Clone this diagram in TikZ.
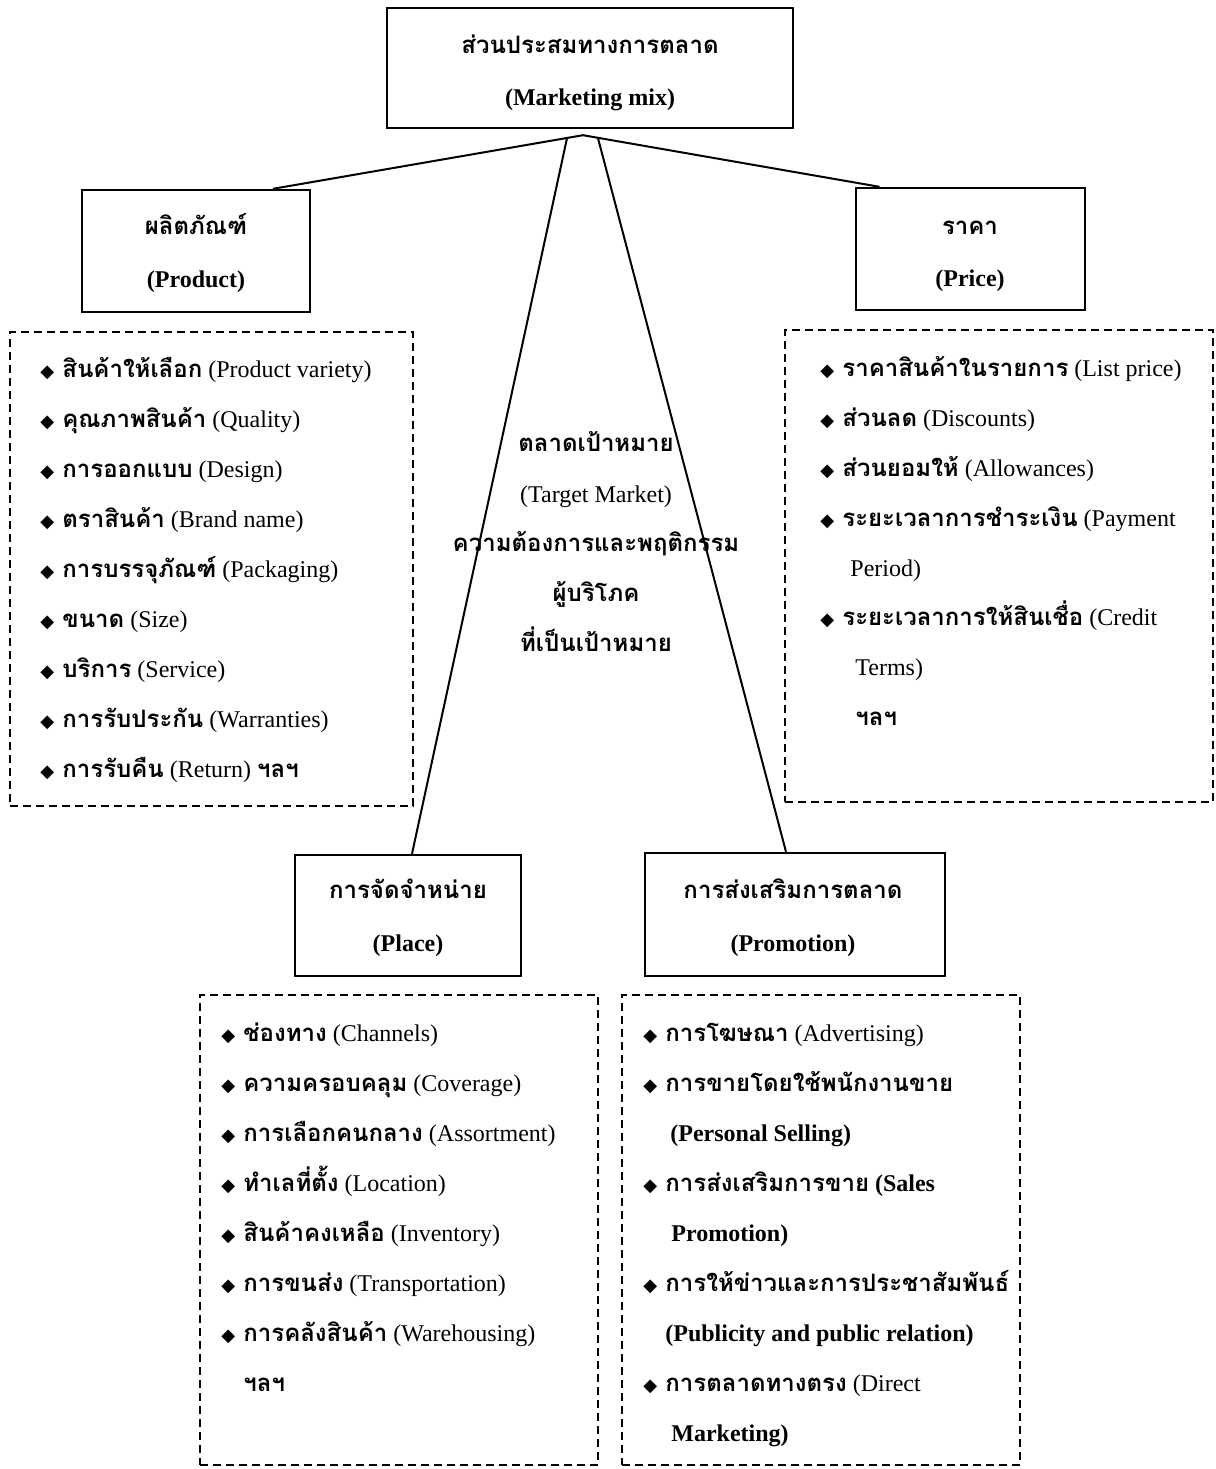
\documentclass[tikz,border=0pt]{standalone}
\usepackage{fontspec}
\setmainfont{Liberation Serif}
\newfontfamily\thaifont[Script=Thai]{Loma}
\newfontfamily\symfont{DejaVu Sans}
\usetikzlibrary{calc}
\newcommand\thx[1]{{\thaifont\bfseries #1}}
\newcommand\bul{\makebox[11pt][l]{\symfont\fontsize{9}{9}\selectfont ◆}}
\tikzset{
  box/.style={draw, line width=1.2pt, rectangle, inner sep=0pt},
  listbox/.style={draw, line width=1.2pt, rectangle, inner sep=0pt, dash pattern=on 4pt off 2.5pt},
  conn/.style={line width=1pt},
  txt/.style={anchor=base, inner sep=0pt, font=\fontsize{12}{14}\selectfont},
  item/.style={anchor=base west, inner sep=0pt, font=\fontsize{12}{14}\selectfont},
}
\begin{document}
\begin{tikzpicture}[x=0.5pt,y=-0.5pt]
\useasboundingbox (0,0) rectangle (1216,1469);
% main boxes
\node[box, minimum width=203pt, minimum height=60pt] (mix) at (590,68) {};
\node[box, minimum width=114pt, minimum height=61pt] (prod) at (196,251) {};
\node[box, minimum width=114.5pt, minimum height=61pt] (price) at (970.5,249) {};
\node[box, minimum width=113pt, minimum height=60.5pt] (place) at (408,915.5) {};
\node[box, minimum width=150pt, minimum height=61.5pt] (promo) at (795,914.5) {};
% titles
\node[txt] (mixth) at (590,53) {\thx{ส่วนประสมทางการตลาด}};
\node[txt] (mixen) at (590,105) {\textbf{(Marketing mix)}};
\node[txt] (prodth) at (196,234) {\thx{ผลิตภัณฑ์}};
\node[txt] (proden) at (196,287) {\textbf{(Product)}};
\node[txt] (priceth) at (970,234) {\thx{ราคา}};
\node[txt] (priceen) at (970,286) {\textbf{(Price)}};
\node[txt] (placeth) at (408,898) {\thx{การจัดจำหน่าย}};
\node[txt] (placeen) at (408,951) {\textbf{(Place)}};
\node[txt] (promoth) at (793,898) {\thx{การส่งเสริมการตลาด}};
\node[txt] (promoen) at (793,951) {\textbf{(Promotion)}};
% list boxes
\node[listbox, minimum width=201.5pt, minimum height=237pt] (prodl) at (211.5,569) {};
\node[listbox, minimum width=214pt, minimum height=236pt] (pricel) at (999,566) {};
\node[listbox, minimum width=199pt, minimum height=235pt] (placel) at (399,1230) {};
\node[listbox, minimum width=199pt, minimum height=235pt] (promol) at (821,1230) {};
% connectors
\coordinate (apex) at ($(mix.south)+(-7,6)$);
\coordinate (apexL) at ($(mix.south)+(-23,9)$);
\coordinate (apexR) at ($(mix.south)+(8,9)$);
\draw[conn] (apex) -- ($(prod.north)+(77,0)$);
\draw[conn] (apex) -- ($(price.north)+(-91,0)$);
\draw[conn] (apexL) -- ($(place.north)+(4,0)$);
\draw[conn] (apexR) -- ($(promo.north)+(-9,0)$);
% target market text
\node[txt] (tm1) at (596,451) {\thx{ตลาดเป้าหมาย}};
\node[txt] (tm2) at (596,502) {(Target Market)};
\node[txt] (tm3) at (596,551) {\thx{ความต้องการและพฤติกรรม}};
\node[txt] (tm4) at (596,601) {\thx{ผู้บริโภค}};
\node[txt] (tm5) at (596,651) {\thx{ที่เป็นเป้าหมาย}};
% product list
\node[item] (p1) at (40,377) {\bul\thx{สินค้าให้เลือก} (Product variety)};
\node[item] (p2) at (40,427) {\bul\thx{คุณภาพสินค้า} (Quality)};
\node[item] (p3) at (40,477) {\bul\thx{การออกแบบ} (Design)};
\node[item] (p4) at (40,527) {\bul\thx{ตราสินค้า} (Brand name)};
\node[item] (p5) at (40,577) {\bul\thx{การบรรจุภัณฑ์} (Packaging)};
\node[item] (p6) at (40,627) {\bul\thx{ขนาด} (Size)};
\node[item] (p7) at (40,677) {\bul\thx{บริการ} (Service)};
\node[item] (p8) at (40,727) {\bul\thx{การรับประกัน} (Warranties)};
\node[item] (p9) at (40,777) {\bul\thx{การรับคืน} (Return) \thx{ฯลฯ}};
% price list
\node[item] (r1) at (820,376) {\bul\thx{ราคาสินค้าในรายการ} (List price)};
\node[item] (r2) at (820,426) {\bul\thx{ส่วนลด} (Discounts)};
\node[item] (r3) at (820,476) {\bul\thx{ส่วนยอมให้} (Allowances)};
\node[item] (r4) at (820,526) {\bul\thx{ระยะเวลาการชำระเงิน} (Payment};
\node[item] (r4b) at (850,576) {Period)};
\node[item] (r5) at (820,625) {\bul\thx{ระยะเวลาการให้สินเชื่อ} (Credit};
\node[item] (r5b) at (855,675) {Terms)};
\node[item] (r6) at (855,725) {\thx{ฯลฯ}};
% place list
\node[item] (c1) at (221,1041) {\bul\thx{ช่องทาง} (Channels)};
\node[item] (c2) at (221,1091) {\bul\thx{ความครอบคลุม} (Coverage)};
\node[item] (c3) at (221,1141) {\bul\thx{การเลือกคนกลาง} (Assortment)};
\node[item] (c4) at (221,1191) {\bul\thx{ทำเลที่ตั้ง} (Location)};
\node[item] (c5) at (221,1241) {\bul\thx{สินค้าคงเหลือ} (Inventory)};
\node[item] (c6) at (221,1291) {\bul\thx{การขนส่ง} (Transportation)};
\node[item] (c7) at (221,1341) {\bul\thx{การคลังสินค้า} (Warehousing)};
\node[item] (c8) at (243,1391) {\thx{ฯลฯ}};
% promotion list
\node[item] (m1) at (643,1041) {\bul\thx{การโฆษณา} (Advertising)};
\node[item] (m2) at (643,1091) {\bul\thx{การขายโดยใช้พนักงานขาย}};
\node[item] (m2b) at (670,1141) {\textbf{(Personal Selling)}};
\node[item] (m3) at (643,1191) {\bul\thx{การส่งเสริมการขาย} \textbf{(Sales}};
\node[item] (m3b) at (671,1241) {\textbf{Promotion)}};
\node[item] (m4) at (643,1291) {\bul\thx{การให้ข่าวและการประชาสัมพันธ์}};
\node[item] (m4b) at (665,1341) {\textbf{(Publicity and public relation)}};
\node[item] (m5) at (643,1391) {\bul\thx{การตลาดทางตรง} (Direct};
\node[item] (m5b) at (671,1441) {\textbf{Marketing)}};
\end{tikzpicture}
\end{document}
